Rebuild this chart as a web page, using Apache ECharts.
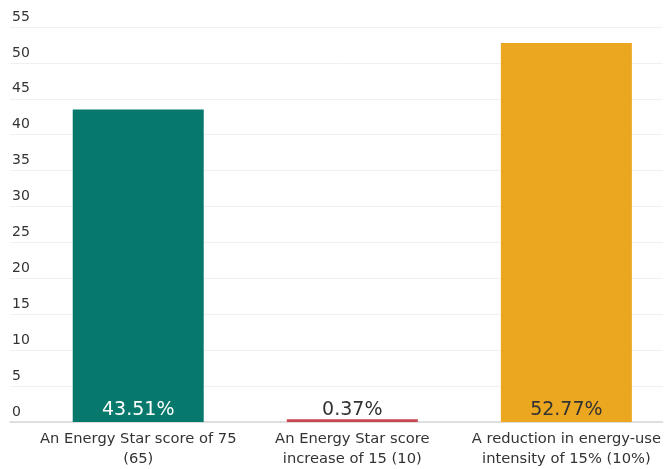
<!DOCTYPE html>
<html>
<head>
<meta charset="utf-8">
<script src="https://cdn.jsdelivr.net/npm/echarts@6/dist/echarts.min.js"></script>
<style>
html,body{margin:0;padding:0;background:#fff;}
#chart{width:664px;height:469px;}
</style>
</head>
<body>
<div id="chart"></div>
<script>
const categories = ["An Energy Star score of 75\n(65)", "An Energy Star score\nincrease of 15 (10)", "A reduction in energy-use\nintensity of 15% (10%)"];
const values = [43.51, 0.37, 52.77];
const barColors = ["#06786c", "#c9474f", "#eca721"];
const labelColors = ["#ffffff", "#333333", "#333333"];
const yTicks = [0, 5, 10, 15, 20, 25, 30, 35, 40, 45, 50, 55];

const chart = echarts.init(document.getElementById('chart'));
const font = "'DejaVu Sans', Verdana, sans-serif";
const catIdx = categories.map((c, i) => i);
chart.setOption({
  animation: false,
  grid: {left: 10, right: 0, top: 27, bottom: 46},
  xAxis: {type: 'value', min: -0.599, max: 2.45,
    axisLine: {show: true, onZero: false, lineStyle: {color: '#d6d6d6', width: 1.5}},
    axisTick: {show: false}, splitLine: {show: false},
    axisLabel: {customValues: catIdx, formatter: v => categories[Math.round(v)],
      showMinLabel: true, showMaxLabel: true,
      color: '#333', fontFamily: font, fontSize: 14.7, lineHeight: 20, margin: 7}},
  yAxis: {type: 'value', min: yTicks[0], max: yTicks[yTicks.length-1], interval: 5,
     axisLine: {show: false}, axisTick: {show: false},
     splitLine: {lineStyle: {color: '#f0f0f0', width: 1}},
     axisLabel: {inside: true, align: 'left', verticalAlign: 'bottom', margin: 2,
       padding: [0,0,3,0], color: '#333', fontFamily: font, fontSize: 14}},
  series: [
    {type: 'bar', barWidth: 131,
     data: values.map((v, i) => ({value: [catIdx[i], v], itemStyle: {color: barColors[i]},
       label: {color: labelColors[i]}})),
     label: {show: true, position: 'insideBottom', distance: 2, fontFamily: font, fontSize: 19,
       formatter: p => p.value[1].toFixed(2) + '%'}}
  ]
});
</script>
</body>
</html>
